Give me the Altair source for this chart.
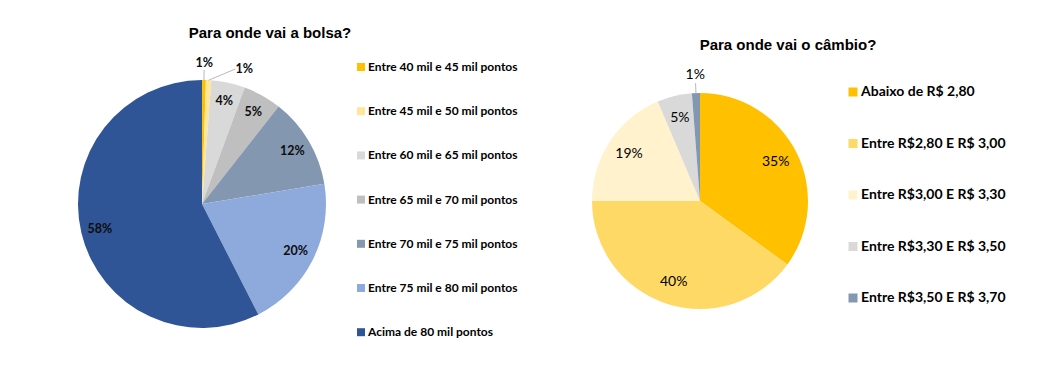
import altair as alt
import pandas as pd

TITLE_BOLSA = "Para onde vai a bolsa?"
BOLSA_CATS = [
    "Entre 40 mil e 45 mil pontos",
    "Entre 45 mil e 50 mil pontos",
    "Entre 60 mil e 65 mil pontos",
    "Entre 65 mil e 70 mil pontos",
    "Entre 70 mil e 75 mil pontos",
    "Entre 75 mil e 80 mil pontos",
    "Acima de 80 mil pontos",
]
BOLSA_VALUES = [0.5, 0.7, 4.4, 5.0, 11.8, 20.1, 57.5]
BOLSA_LABELS = ["1%", "1%", "4%", "5%", "12%", "20%", "58%"]
BOLSA_COLORS = ["#FFC000", "#FFE699", "#D9D9D9", "#BFBFBF", "#8497B0", "#8EA9DB", "#2F5597"]

TITLE_CAMBIO = "Para onde vai o câmbio?"
CAMBIO_CATS = [
    "Abaixo de R$ 2,80",
    "Entre R$2,80 E R$ 3,00",
    "Entre R$3,00 E R$ 3,30",
    "Entre R$3,30 E R$ 3,50",
    "Entre R$3,50 E R$ 3,70",
]
CAMBIO_VALUES = [35.0, 40.0, 18.6, 5.2, 1.2]
CAMBIO_LABELS = ["35%", "40%", "19%", "5%", "1%"]
CAMBIO_COLORS = ["#FFC000", "#FFD966", "#FFF2CC", "#D9D9D9", "#8497B0"]


def table(cats, vals, labels):
    df = pd.DataFrame({"cat": cats, "value": vals, "label": labels})
    df["idx"] = range(len(df))
    df["end"] = df["value"].cumsum()
    df["start"] = df["end"] - df["value"]
    df["mid"] = (df["start"] + df["end"]) / 2
    return df


dfb = table(BOLSA_CATS, BOLSA_VALUES, BOLSA_LABELS)
dfc = table(CAMBIO_CATS, CAMBIO_VALUES, CAMBIO_LABELS)
tot_b = float(sum(BOLSA_VALUES))
tot_c = float(sum(CAMBIO_VALUES))

B_CX, B_CY, B_R = 194, 196, 124
C_CX, C_CY, C_R = 692, 193, 108
LEADER = "#A6A6A6"

bolsa_arcs = alt.Chart(dfb).mark_arc(radius=B_R).encode(
    theta=alt.Theta("start:Q", scale=alt.Scale(domain=[0, tot_b]), stack=False),
    theta2="end:Q",
    color=alt.Color(
        "cat:N",
        scale=alt.Scale(domain=BOLSA_CATS, range=BOLSA_COLORS),
        legend=alt.Legend(
            title=None, orient="none", legendX=347, legendY=53,
            symbolType="square", symbolSize=64, symbolStrokeWidth=0,
            labelFont="Lato", labelFontSize=12, labelFontWeight="bold",
            labelColor="#000000", labelOffset=1, rowPadding=32.2, padding=0,
            labelLimit=300,
        ),
    ),
    x=alt.value(B_CX), y=alt.value(B_CY),
)

bolsa_text = alt.Chart(dfb).transform_calculate(
    pos="datum.mid + (datum.idx == 1 ? 4 : 0)",
    rad="datum.value < 2 ? 141 : 105",
).mark_text(font="Lato", fontSize=12.5, fontWeight="bold", color="#0d0d0d").encode(
    theta=alt.Theta("pos:Q", scale=alt.Scale(domain=[0, tot_b]), stack=False),
    radius=alt.Radius("rad:Q", scale=None),
    text="label:N",
    x=alt.value(B_CX), y=alt.value(B_CY),
)

bolsa_lines = alt.Chart(dfb).transform_filter("datum.value < 2").transform_calculate(
    a1=f"datum.mid / {tot_b} * 2 * PI",
    a2=f"(datum.mid + (datum.idx == 1 ? 3 : 0)) / {tot_b} * 2 * PI",
    r2="datum.idx == 1 ? 139 : 134",
).transform_calculate(
    px1=f"{B_CX} + {B_R} * sin(datum.a1)",
    py1=f"{B_CY} - {B_R} * cos(datum.a1)",
    px2=f"{B_CX} + datum.r2 * sin(datum.a2)",
    py2=f"{B_CY} - datum.r2 * cos(datum.a2)",
).mark_rule(color=LEADER, strokeWidth=0.8).encode(
    x=alt.X("px1:Q", scale=None), y=alt.Y("py1:Q", scale=None),
    x2="px2:Q", y2="py2:Q",
)

cambio_arcs = alt.Chart(dfc).mark_arc(radius=C_R).encode(
    theta=alt.Theta("start:Q", scale=alt.Scale(domain=[0, tot_c]), stack=False),
    theta2="end:Q",
    color=alt.Color(
        "cat:N",
        scale=alt.Scale(domain=CAMBIO_CATS, range=CAMBIO_COLORS),
        legend=alt.Legend(
            title=None, orient="none", legendX=838, legendY=77,
            symbolType="square", symbolSize=81, symbolStrokeWidth=0,
            labelFont="Lato", labelFontSize=14, labelFontWeight="bold",
            labelColor="#000000", labelOffset=1, rowPadding=37.5, padding=0,
            labelLimit=300,
        ),
    ),
    x=alt.value(C_CX), y=alt.value(C_CY),
)

cambio_text = alt.Chart(dfc).transform_calculate(
    rad="datum.value < 2 ? 126 : 85",
).mark_text(font="Lato", fontSize=14, color="#000000").encode(
    theta=alt.Theta("mid:Q", scale=alt.Scale(domain=[0, tot_c]), stack=False),
    radius=alt.Radius("rad:Q", scale=None),
    text="label:N",
    x=alt.value(C_CX), y=alt.value(C_CY),
)

cambio_lines = alt.Chart(dfc).transform_filter("datum.value < 2").transform_calculate(
    a1=f"datum.mid / {tot_c} * 2 * PI",
).transform_calculate(
    px1=f"{C_CX} + {C_R} * sin(datum.a1)",
    py1=f"{C_CY} - {C_R} * cos(datum.a1)",
    px2=f"{C_CX} + {C_R + 10} * sin(datum.a1)",
    py2=f"{C_CY} - {C_R + 10} * cos(datum.a1)",
).mark_rule(color=LEADER, strokeWidth=0.8).encode(
    x=alt.X("px1:Q", scale=None), y=alt.Y("py1:Q", scale=None),
    x2="px2:Q", y2="py2:Q",
)

titles = pd.DataFrame({"t": [TITLE_BOLSA, TITLE_CAMBIO], "k": ["b", "c"]})
title_b = alt.Chart(titles).transform_filter("datum.k == 'b'").mark_text(
    font="Liberation Sans", fontSize=15, fontWeight="bold", color="#000000"
).encode(text="t:N", x=alt.value(262), y=alt.value(25))
title_c = alt.Chart(titles).transform_filter("datum.k == 'c'").mark_text(
    font="Liberation Sans", fontSize=15, fontWeight="bold", color="#000000"
).encode(text="t:N", x=alt.value(780), y=alt.value(37))

chart = alt.layer(
    bolsa_arcs, bolsa_lines, bolsa_text, cambio_arcs, cambio_lines, cambio_text, title_b, title_c
).resolve_scale(color="independent", theta="independent").properties(
    width=1029, height=350, padding=0, autosize=alt.AutoSizeParams(type="none"),
    background="#ffffff",
).configure_view(strokeWidth=0)

chart.save("out.html", embed_options={"renderer": "svg", "actions": False})
